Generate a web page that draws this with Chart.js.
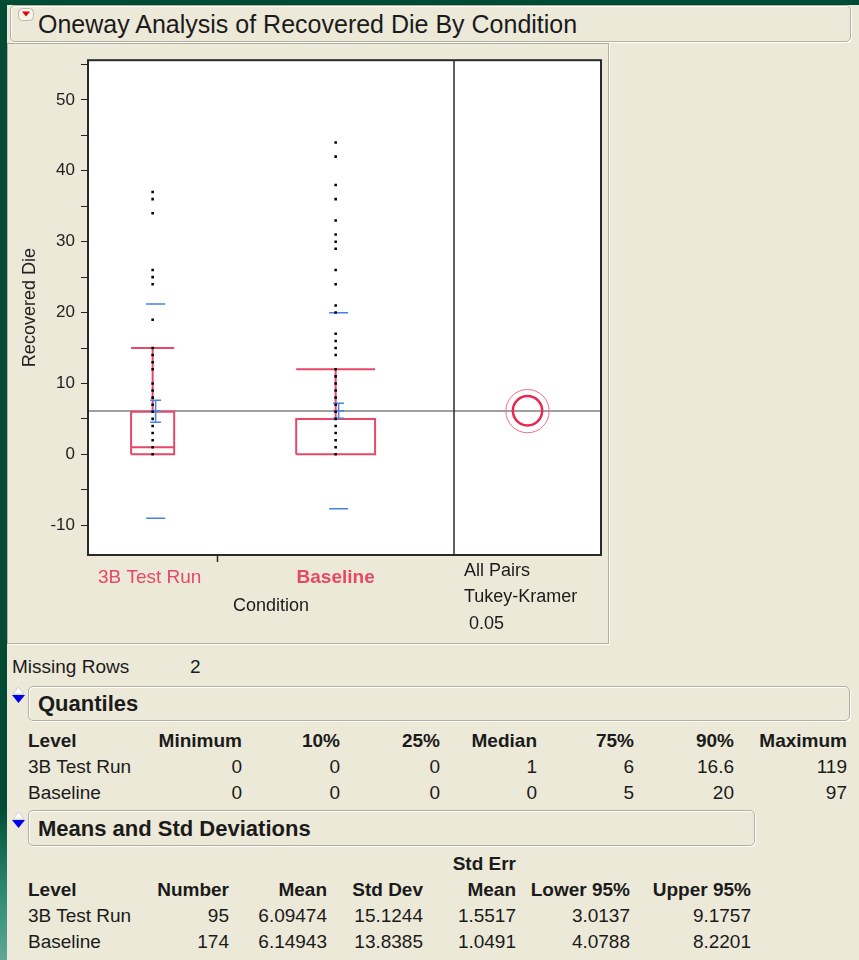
<!DOCTYPE html>
<html>
<head>
<meta charset="utf-8">
<title>Oneway Analysis of Recovered Die By Condition</title>
<script src="https://cdn.jsdelivr.net/npm/chart.js@4.4.1/dist/chart.umd.min.js"></script>
<style>
  html, body { margin: 0; padding: 0; }
  body {
    width: 859px; height: 960px; position: relative; overflow: hidden;
    background: #004b33;
    font-family: "Liberation Sans", Arial, sans-serif; color: #1b1b1b;
  }
  #strip {
    position: absolute; left: 0; top: 0; width: 7px; height: 960px;
    background: linear-gradient(to bottom, #004b33 0%, #004b33 84%, #2f8a72 93%, #5fa894 100%);
  }
  #page { position: absolute; left: 7px; top: 5px; right: 0; bottom: 0; background: #ece9d8; }
  .hdr {
    position: absolute; box-sizing: border-box; background: #ece9d8;
    border: 1px solid #b3b09f; border-radius: 5px;
    box-shadow: inset 1px 1px 0 #fff, 1px 1px 0 #fff;
  }
  .hdr span { position: absolute; left: 9px; white-space: nowrap; }
  #panel {
    position: absolute; left: 7px; top: 43px; width: 602px; height: 601px; box-sizing: border-box;
    border: 1px solid #b3b09f; box-shadow: 1px 1px 0 #fff;
  }
  #plot { position: absolute; left: 8px; top: 44px; width: 601px; height: 599px; }
  .t { position: absolute; white-space: nowrap; font-size: 19px; height: 22px; line-height: 22px; }
  .b { font-weight: bold; }
</style>
</head>
<body>
<div id="strip"></div>
<div id="page"></div>

<div class="hdr" style="left:10px;top:5px;width:841px;height:37px;">
  <span style="left:27px;top:3px;font-size:25px;line-height:30px;">Oneway Analysis of Recovered Die By Condition</span>
</div>
<svg style="position:absolute;left:18px;top:8px" width="16" height="13">
  <rect x="0.5" y="0.5" width="15" height="12" rx="4" fill="#f6f4ec" stroke="#bcb9a9"/>
  <path d="M4 3.5 L12 3.5 L8 8.5 Z" fill="#e60000"/>
</svg>

<div id="panel"></div>
<div id="plot"><canvas id="chart" width="601" height="599"></canvas></div>

<div class="t" style="left:12px;top:656px;">Missing Rows</div>
<div class="t" style="left:190px;top:656px;">2</div>

<svg style="position:absolute;left:11px;top:686px" width="15" height="18">
  <path d="M7.5 1 L13 8 L2 8 Z" fill="#ffffff" stroke="#c4c4c4" stroke-width="0.8"/>
  <path d="M1 9 L14 9 L7.5 17 Z" fill="#0000e8"/>
</svg>
<div class="hdr" style="left:28px;top:686px;width:822px;height:35px;">
  <span class="b" style="top:4px;font-size:22px;line-height:26px;">Quantiles</span>
</div>

<svg style="position:absolute;left:11px;top:811px" width="15" height="18">
  <path d="M7.5 1 L13 8 L2 8 Z" fill="#ffffff" stroke="#c4c4c4" stroke-width="0.8"/>
  <path d="M1 9 L14 9 L7.5 17 Z" fill="#0000e8"/>
</svg>
<div class="hdr" style="left:28px;top:810px;width:727px;height:36px;">
  <span class="b" style="top:5px;font-size:22px;line-height:26px;">Means and Std Deviations</span>
</div>

<script>
// groups and summary statistics
var groups = ["3B Test Run", "Baseline"];
var counts = [95, 174];
var q1s = [0, 0];
var medians = [1, 0];
var q3s = [6, 5];
var upperWhiskers = [15, 12];
var lowerWhiskers = [0, 0];
var means = [6.09474, 6.14943];
var stdDevs = [15.1244, 13.8385];
var stdErrs = [1.5517, 1.0491];
var lower95 = [3.0137, 4.0788];
var upper95 = [9.1757, 8.2201];
var qStar = 1.9692; // Tukey-Kramer q*, alpha 0.05

var testRunValues = [0, 1, 2, 3, 4, 5, 6, 7, 8, 9, 10, 12, 13, 14, 15, 19, 24, 25, 26, 34, 36, 37, 119];
var baselineValues = [0, 1, 2, 3, 4, 5, 6, 7, 8, 9, 10, 11, 12, 14, 15, 16, 17, 20, 21, 24, 26, 29, 30, 31, 33, 36, 38, 42, 44, 97];

// y axis ticks
var yTicks = [-10, -5, 0, 5, 10, 15, 20, 25, 30, 35, 40, 45, 50, 55];
var yTickLabels = ["-10", "", "0", "", "10", "", "20", "", "30", "", "40", "", "50", ""];

// tables
var quantileCols = ["Minimum", "10%", "25%", "Median", "75%", "90%", "Maximum"];
var quantileRows = [
  [0, 0, 0, 1, 6, 16.6, 119],
  [0, 0, 0, 0, 5, 20, 97]
];
var compareLabels = ["All Pairs", "Tukey-Kramer", " 0.05"];

var pink = "rgb(232,72,104)";
var blue = "rgb(70,130,232)";
var fam = '"Liberation Sans", Arial, sans-serif';

var total = counts[0] + counts[1];
var comparePanel = 108;            // width of comparison circle panel, x units
var xMax = total + comparePanel;
var starts = [0, counts[0]];
var centers = starts.map(function (s, i) { return s + counts[i] / 2; });
var markOffset = 2.2;
var grandMean = (counts[0] * means[0] + counts[1] * means[1]) / total;

var boxData = [];
var blueData = [];
function seg(arr, x1, y1, x2, y2) {
  arr.push({x: x1, y: y1}, {x: x2, y: y2}, {x: x2, y: null});
}
centers.forEach(function (c, i) {
  var hw = counts[i] / 6;
  var l = c - hw, r = c + hw;
  boxData.push({x: l, y: q1s[i]}, {x: r, y: q1s[i]}, {x: r, y: q3s[i]}, {x: l, y: q3s[i]}, {x: l, y: q1s[i]}, {x: l, y: null});
  seg(boxData, l, medians[i], r, medians[i]);
  seg(boxData, c, q3s[i], c, upperWhiskers[i]);
  seg(boxData, l, upperWhiskers[i], r, upperWhiskers[i]);
  seg(boxData, c, q1s[i], c, lowerWhiskers[i]);

  var m = c + markOffset, mu = means[i], sd = stdDevs[i], se = stdErrs[i];
  seg(blueData, m - 7, mu + sd, m + 7, mu + sd);
  seg(blueData, m - 7, mu - sd, m + 7, mu - sd);
  seg(blueData, m - 4, mu + se, m + 4, mu + se);
  seg(blueData, m - 4, mu - se, m + 4, mu - se);
  seg(blueData, m, mu - se, m, mu + se);
  seg(blueData, m - 4, mu, m + 4, mu);
});

var compareCenter = total + comparePanel / 2;

var framePlugin = {
  id: "frame",
  beforeDraw: function (chart) {
    var a = chart.chartArea, ctx = chart.ctx;
    ctx.save();
    ctx.fillStyle = "#ffffff";
    ctx.fillRect(a.left, a.top, a.right - a.left, a.bottom - a.top);
    ctx.restore();
  },
  afterDraw: function (chart) {
    var a = chart.chartArea, ctx = chart.ctx, x = chart.scales.x;
    ctx.save();
    ctx.strokeStyle = "#2a2a2a";
    ctx.lineWidth = 2;
    ctx.strokeRect(a.left, a.top, a.right - a.left, a.bottom - a.top);
    var dx = Math.round(x.getPixelForValue(total));
    ctx.beginPath();
    ctx.moveTo(dx, a.top); ctx.lineTo(dx, a.bottom);
    var bx = Math.round(x.getPixelForValue(counts[0])) + 0.5;
    ctx.moveTo(bx, a.bottom); ctx.lineTo(bx, a.bottom + 7);
    ctx.lineWidth = 1.5;
    ctx.stroke();

    ctx.textBaseline = "middle";
    ctx.textAlign = "center";
    groups.forEach(function (g, i) {
      ctx.fillStyle = pink;
      ctx.font = (i === 1 ? "bold " : "") + "19px " + fam;
      ctx.fillText(g, x.getPixelForValue(centers[i]) - (i === 0 ? 3 : 0), a.bottom + 23);
    });
    ctx.fillStyle = "#1b1b1b";
    ctx.font = "18px " + fam;
    ctx.fillText("Condition", x.getPixelForValue(total / 2), a.bottom + 51);
    ctx.textAlign = "left";
    compareLabels.forEach(function (t, i) {
      ctx.fillText(t, dx + 10, a.bottom + 16 + i * 26.5);
    });
    ctx.restore();
  }
};

new Chart("chart", {
  type: "line",
  data: {
    datasets: [
      {
        type: "scatter",
        data: testRunValues.map(function (v) { return {x: centers[0], y: v}; }),
        pointStyle: "rect", pointRadius: 1.8, borderWidth: 0,
        backgroundColor: "#000", order: 1
      },
      {
        type: "scatter",
        data: baselineValues.map(function (v) { return {x: centers[1], y: v}; }),
        pointStyle: "rect", pointRadius: 1.8, borderWidth: 0,
        backgroundColor: "#000", order: 1
      },
      {
        data: blueData, borderColor: blue, borderWidth: 1.5,
        pointRadius: 0, spanGaps: false, order: 2
      },
      {
        data: boxData, borderColor: pink, borderWidth: 2,
        pointRadius: 0, spanGaps: false, order: 3
      },
      {
        data: [{x: 0, y: grandMean}, {x: xMax, y: grandMean}],
        borderColor: "#808080", borderWidth: 1.5, pointRadius: 0, order: 4
      },
      {
        type: "scatter",
        data: means.map(function (m) { return {x: compareCenter, y: m}; }),
        pointStyle: "circle",
        pointRadius: function (ctx) {
          var y = ctx.chart.scales.y;
          if (!y) return 14;
          var se = stdErrs[ctx.dataIndex];
          return Math.abs(y.getPixelForValue(0) - y.getPixelForValue(qStar * se));
        },
        borderColor: ["rgb(240,110,135)", "rgb(232,40,80)"],
        borderWidth: [1, 2.5],
        backgroundColor: "rgba(0,0,0,0)", order: 0
      }
    ]
  },
  options: {
    responsive: false,
    animation: false,
    events: [],
    layout: {padding: {left: 0, top: 13, right: 8, bottom: 88}},
    plugins: {legend: {display: false}, tooltip: {enabled: false}},
    scales: {
      x: {type: "linear", display: false, min: 0, max: xMax},
      y: {
        type: "linear", min: -14.2, max: 55.6,
        afterBuildTicks: function (s) { s.ticks = yTicks.map(function (v) { return {value: v}; }); },
        afterFit: function (s) { s.width = 80; },
        ticks: {
          autoSkip: false, padding: 6, color: "#222",
          font: {size: 17, family: fam},
          callback: function (v) { return yTickLabels[yTicks.indexOf(v)]; }
        },
        grid: {drawOnChartArea: false, drawTicks: true, tickLength: 7, tickColor: "#222", tickWidth: 1},
        border: {display: false},
        title: {
          display: true, text: "Recovered Die", color: "#222",
          font: {size: 18, family: fam}, padding: {top: 11, bottom: 0}
        }
      }
    }
  },
  plugins: [framePlugin]
});

// tables
function cell(text, edge, cy, right, bold) {
  var d = document.createElement("div");
  d.className = "t" + (bold ? " b" : "");
  d.textContent = text;
  d.style.top = (cy - 11) + "px";
  if (right) d.style.right = (859 - edge) + "px";
  else d.style.left = edge + "px";
  document.body.appendChild(d);
}

var qRights = [242, 340, 440, 537, 634, 734, 847];
cell("Level", 28, 741, false, true);
quantileCols.forEach(function (c, j) { cell(c, qRights[j], 741, true, true); });
groups.forEach(function (g, i) {
  var cy = 767 + i * 26;
  cell(g, 28, cy, false, false);
  quantileRows[i].forEach(function (v, j) { cell(String(v), qRights[j], cy, true, false); });
});

var mRights = [229, 327, 423, 516, 630, 751];
var mHeads = ["Number", "Mean", "Std Dev", "Mean", "Lower 95%", "Upper 95%"];
cell("Std Err", mRights[3], 864, true, true);
cell("Level", 28, 890, false, true);
mHeads.forEach(function (h, j) { cell(h, mRights[j], 890, true, true); });
groups.forEach(function (g, i) {
  var cy = 916 + i * 26;
  var vals = [counts[i], means[i], stdDevs[i], stdErrs[i], lower95[i], upper95[i]];
  cell(g, 28, cy, false, false);
  vals.forEach(function (v, j) { cell(String(v), mRights[j], cy, true, false); });
});
</script>
</body>
</html>
